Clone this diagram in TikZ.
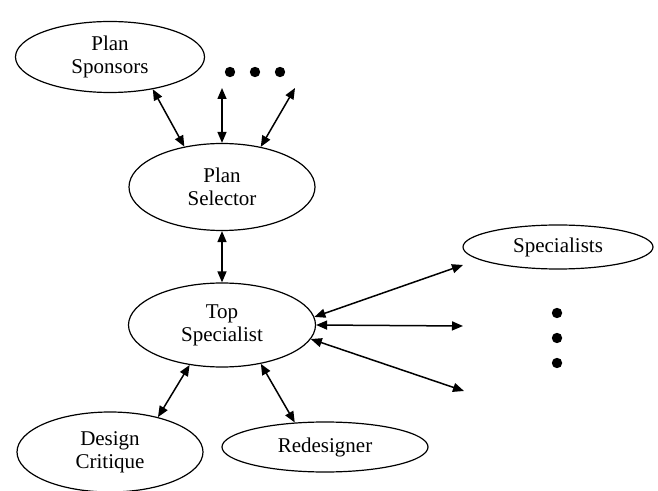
\documentclass[tikz,border=0pt]{standalone}
\usepackage{fontspec}
\setmainfont{Liberation Serif}
\usetikzlibrary{arrows.meta, shapes.geometric}
\begin{document}
\begin{tikzpicture}[
	x=0.5pt, y=-0.5pt,
	font=\fontsize{10.5}{11.5}\selectfont,
	agent/.style={draw=black, ellipse, line width=0.6pt, inner sep=0pt, align=center},
	ar/.style={{Triangle[length=5.5pt,width=4.5pt]}-{Triangle[length=5.5pt,width=4.5pt]}, line width=0.75pt}
	]
	\useasboundingbox (0,0) rectangle (658,491);
	% planning level
	\node[agent, minimum width=94.5pt, minimum height=35.5pt] (sponsors) at (110,57) {Plan\\Sponsors};
	\node[agent, minimum width=93pt, minimum height=43.5pt] (selector) at (222,187) {Plan\\Selector};
	\coordinate (up1) at (222,88);
	\coordinate (up2) at (295,88);
	\foreach \x in {230,255,280} {\fill (\x,72) circle[radius=2.6pt];}
	\draw[ar] (sponsors.-37) -- (selector.133);
	\draw[ar] (selector.north) -- (up1);
	\draw[ar] (selector.46) -- (up2);
	% design level
	\node[agent, minimum width=93.5pt, minimum height=42pt] (top) at (222,325) {Top\\Specialist};
	\node[agent, minimum width=95pt, minimum height=22pt] (specs) at (558,247) {Specialists};
	\node[agent, minimum width=93pt, minimum height=40pt] (critique) at (110,452) {Design\\Critique};
	\node[agent, minimum width=103pt, minimum height=25pt] (redesign) at (325,447) {Redesigner};
	\draw[ar] (selector.south) -- (top.north);
	\coordinate (sp1) at (463,265);
	\coordinate (sp2) at (463,326);
	\coordinate (sp3) at (464,391);
	\foreach \a/\c in {5/sp1, 0/sp2, -9/sp3} {\draw[ar] (top.\a) -- (\c);}
	\foreach \y in {313,338,363} {\fill (557,\y) circle[radius=2.6pt];}
	\draw[ar] (critique.36) -- (top.-129);
	\draw[ar] (top.-45) -- (redesign.141);
\end{tikzpicture}
\end{document}
